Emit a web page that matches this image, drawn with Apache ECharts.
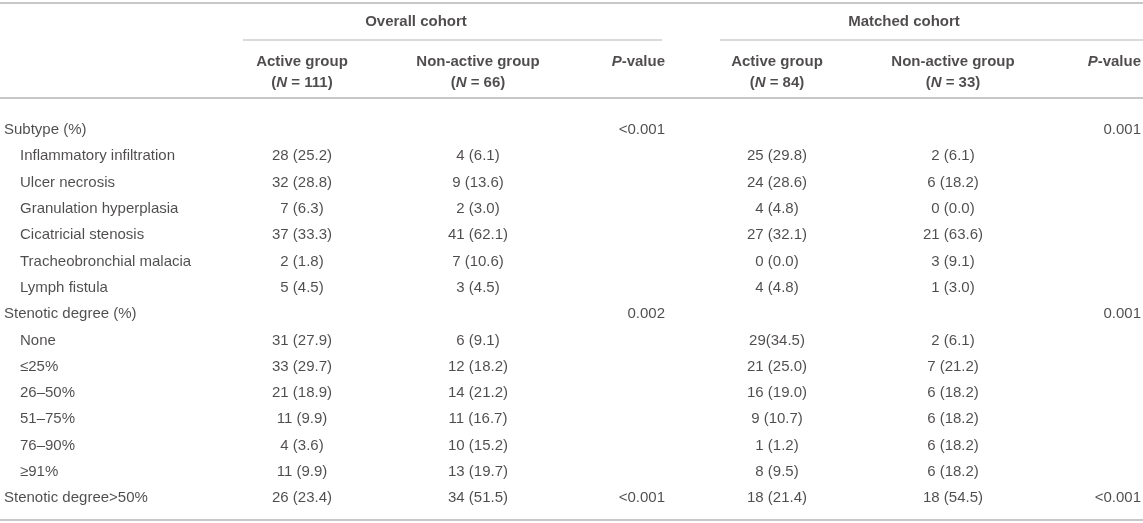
<!DOCTYPE html>
<html>
<head>
<meta charset="utf-8">
<script src="https://cdn.jsdelivr.net/npm/echarts@6/dist/echarts.min.js"></script>
<style>
  html, body { margin: 0; padding: 0; background: #fff; }
  #main { width: 1143px; height: 523px; }
</style>
</head>
<body>
<div id="main"></div>
<script>
// 表格数据
var groupHeaders = ['Overall cohort', 'Matched cohort']
var colHeaders = ['Active group', 'Non-active group', '{i|P}-value', 'Active group', 'Non-active group', '{i|P}-value']
var nHeaders = ['({i|N} = 111)', '({i|N} = 66)', '', '({i|N} = 84)', '({i|N} = 33)', '']

var rowLabels = ['Subtype (%)', 'Inflammatory infiltration', 'Ulcer necrosis', 'Granulation hyperplasia',
    'Cicatricial stenosis', 'Tracheobronchial malacia', 'Lymph fistula', 'Stenotic degree (%)', 'None',
    '≤25%', '26–50%', '51–75%', '76–90%', '≥91%', 'Stenotic degree>50%']
var rowLevel = [0, 1, 1, 1, 1, 1, 1, 0, 1, 1, 1, 1, 1, 1, 0]

var overallActive = ['', '28 (25.2)', '32 (28.8)', '7 (6.3)', '37 (33.3)', '2 (1.8)', '5 (4.5)', '',
    '31 (27.9)', '33 (29.7)', '21 (18.9)', '11 (9.9)', '4 (3.6)', '11 (9.9)', '26 (23.4)']
var overallNonActive = ['', '4 (6.1)', '9 (13.6)', '2 (3.0)', '41 (62.1)', '7 (10.6)', '3 (4.5)', '',
    '6 (9.1)', '12 (18.2)', '14 (21.2)', '11 (16.7)', '10 (15.2)', '13 (19.7)', '34 (51.5)']
var overallP = ['<0.001', '', '', '', '', '', '', '0.002', '', '', '', '', '', '', '<0.001']
var matchedActive = ['', '25 (29.8)', '24 (28.6)', '4 (4.8)', '27 (32.1)', '0 (0.0)', '4 (4.8)', '',
    '29(34.5)', '21 (25.0)', '16 (19.0)', '9 (10.7)', '1 (1.2)', '8 (9.5)', '18 (21.4)']
var matchedNonActive = ['', '2 (6.1)', '6 (18.2)', '0 (0.0)', '21 (63.6)', '3 (9.1)', '1 (3.0)', '',
    '2 (6.1)', '7 (21.2)', '6 (18.2)', '6 (18.2)', '6 (18.2)', '6 (18.2)', '18 (54.5)']
var matchedP = ['0.001', '', '', '', '', '', '', '0.001', '', '', '', '', '', '', '<0.001']

var columns = [overallActive, overallNonActive, overallP, matchedActive, matchedNonActive, matchedP]

// 版式
var W = 1143, H = 523
var ROW0 = 130, ROW_H = 26.3
function toRow(px) { return (px - ROW0) / ROW_H }
var colX = [302, 478, 665, 777, 953, 1141]
var colAlign = ['center', 'center', 'right', 'center', 'center', 'right']
var groupX = [416, 904]
var levelX = [4, 20]
var FONT = '"Liberation Sans", Arial, Helvetica, sans-serif'
var FS = 15
var TEXT = '#231f20'
var RULE = '#b5b5b5'

function cell(x, y, text, align, bold) {
    return {
        value: [x, y],
        label: {
            show: true,
            position: 'inside',
            align: align,
            verticalAlign: 'middle',
            formatter: text,
            fontFamily: FONT,
            fontSize: FS,
            fontWeight: bold ? 'bold' : 'normal',
            color: TEXT,
            rich: {
                i: { fontFamily: FONT, fontSize: FS, fontStyle: 'italic', fontWeight: bold ? 'bold' : 'normal', color: TEXT }
            }
        }
    }
}

var cells = []
groupHeaders.forEach(function (t, i) { cells.push(cell(groupX[i], toRow(22), t, 'center', true)) })
colHeaders.forEach(function (t, i) { cells.push(cell(colX[i], toRow(62), t, colAlign[i], true)) })
nHeaders.forEach(function (t, i) { if (t) cells.push(cell(colX[i], toRow(83), t, colAlign[i], true)) })
rowLabels.forEach(function (t, r) { cells.push(cell(levelX[rowLevel[r]], r, t, 'left', false)) })
columns.forEach(function (col, c) {
    col.forEach(function (t, r) { if (t) cells.push(cell(colX[c], r, t, colAlign[c], false)) })
})

// 表格横线
var rules = [
    [0, W, 3, 1.5],
    [243, 662, 40, 1.2],
    [720, W, 40, 1.2],
    [0, W, 98, 1.5],
    [0, W, 520, 1.5]
]

var series = [{
    type: 'scatter',
    symbolSize: 0,
    silent: true,
    data: cells
}]
rules.forEach(function (r) {
    series.push({
        type: 'line',
        symbol: 'none',
        silent: true,
        lineStyle: { color: RULE, width: r[3] },
        data: [[r[0], toRow(r[2])], [r[1], toRow(r[2])]]
    })
})

var myEcharts = echarts.init(document.getElementById('main'))
myEcharts.setOption({
    animation: false,
    backgroundColor: '#fff',
    grid: { left: 0, right: 0, top: 0, bottom: 0 },
    xAxis: { type: 'value', min: 0, max: W, show: false },
    yAxis: { type: 'value', inverse: true, min: toRow(0), max: toRow(H), show: false },
    series: series
})
</script>
</body>
</html>
